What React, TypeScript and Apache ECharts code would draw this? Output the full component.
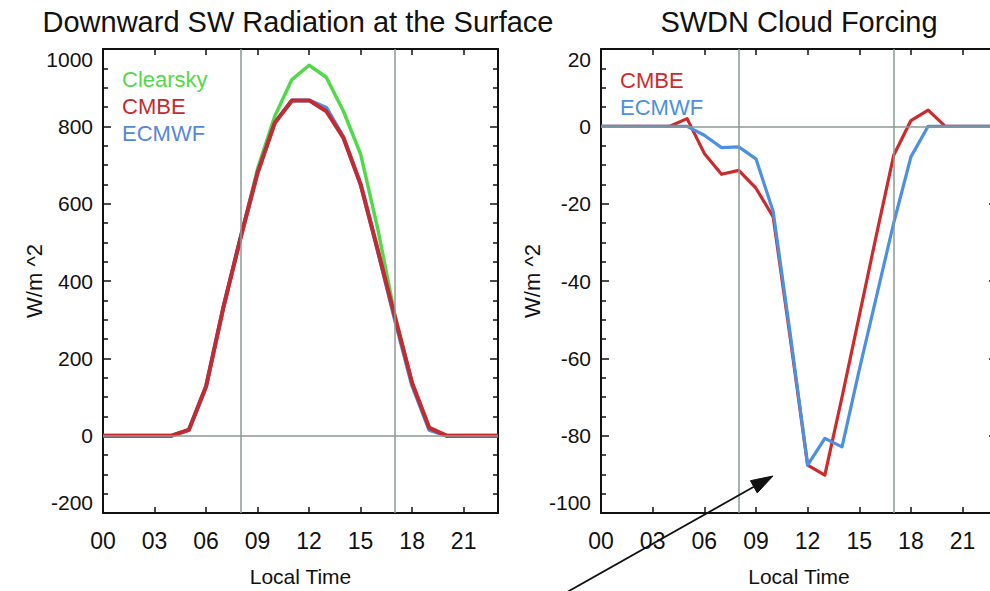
import React, { useEffect, useRef } from 'react';
import * as echarts from 'echarts';

const FONT = '"Liberation Sans", Arial, Helvetica, sans-serif';

// ---- data ----
const hours = [0, 1, 2, 3, 4, 5, 6, 7, 8, 9, 10, 11, 12, 13, 14, 15, 16, 17, 18, 19, 20, 21, 22, 23];
const clearskySW = [0, 0, 0, 0, 0, 15, 127, 330, 510, 690, 826, 921, 958, 927, 839, 728, 535, 310, 136, 20, 0, 0, 0, 0];
const cmbeSW = [0, 0, 0, 0, 0, 15, 127, 330, 510, 680, 809, 867, 867, 839, 770, 650, 480, 307, 136, 20, 0, 0, 0, 0];
const ecmwfSW = [0, 0, 0, 0, 0, 15, 127, 330, 510, 680, 809, 867, 867, 848, 772, 650, 478, 300, 130, 15, 0, 0, 0, 0];
const cmbeCF = [0, 0, 0, 0, 0, 2, -7, -12.4, -11.4, -16, -23.4, -55, -87.6, -90.2, -70, -49, -28, -7.5, 1.5, 4.2, 0, 0, 0, 0];
const ecmwfCF = [0, 0, 0, 0, 0, 0, -2.3, -5.5, -5.3, -8.4, -22, -54, -87.6, -80.7, -82.9, -63, -44, -25, -7.9, 0, 0, 0, 0, 0];

const refHours = [8, 17];
const titles = ['Downward SW Radiation at the Surface', 'SWDN Cloud Forcing'];
const xName = 'Local Time';
const yName = 'W/m ^2';

const GREEN = '#52d94a';
const RED = '#cc2b2e';
const BLUE = '#4d8fe0';
const GRAY = '#8e9893';
const INK = '#111111';

const pairs = (vals: number[]) => hours.map((h, i) => [h, vals[i]]);

function xAxes(gridIndex: number) {
  const base = {
    type: 'value',
    gridIndex,
    min: 0,
    max: 23,
    interval: 3,
    splitLine: { show: false },
    axisLine: { show: true, onZero: false, lineStyle: { color: INK, width: 2 } },
    axisTick: { show: true, inside: true, length: 6, lineStyle: { color: INK, width: 1.5 } },
  };
  return [
    {
      ...base,
      position: 'bottom',
      axisLabel: {
        show: true,
        showMaxLabel: false,
        margin: 16,
        color: INK,
        fontSize: 23,
        fontFamily: FONT,
        formatter: (v: number) => (v < 10 ? '0' + v : String(v)),
      },
      name: xName,
      nameLocation: 'middle',
      nameGap: 53,
      nameTextStyle: { color: INK, fontSize: 21, fontFamily: FONT },
    },
    { ...base, position: 'top', axisLabel: { show: false } },
  ];
}

function yAxes(gridIndex: number, min: number, max: number, interval: number) {
  const base = {
    type: 'value',
    gridIndex,
    min,
    max,
    interval,
    splitLine: { show: false },
    axisLine: { show: true, onZero: false, lineStyle: { color: INK, width: 2 } },
    axisTick: { show: true, inside: true, length: 8, lineStyle: { color: INK, width: 1.5 } },
    minorTick: { show: true, splitNumber: 4, length: 5, lineStyle: { color: INK, width: 1.5 } },
    minorSplitLine: { show: false },
  };
  return [
    {
      ...base,
      position: 'left',
      axisLabel: {
        show: true,
        margin: 10,
        color: INK,
        fontSize: 21,
        fontFamily: FONT,
        formatter: (v: number) => String(v),
        verticalAlignMaxLabel: 'top',
        verticalAlignMinLabel: 'bottom',
      },
      name: yName,
      nameLocation: 'middle',
      nameGap: 58,
      nameMoveOverlap: false,
      nameTextStyle: { color: INK, fontSize: 22, fontFamily: FONT },
    },
    { ...base, position: 'right', axisLabel: { show: false } },
  ];
}

function refLines(xi: number, yi: number) {
  return {
    type: 'line',
    xAxisIndex: xi,
    yAxisIndex: yi,
    data: [],
    silent: true,
    markLine: {
      silent: true,
      symbol: ['none', 'none'],
      label: { show: false },
      lineStyle: { color: GRAY, width: 1.5, type: 'solid' },
      data: [...refHours.map((h) => ({ xAxis: h })), { yAxis: 0 }],
    },
  };
}

function lineSeries(name: string, vals: number[], color: string, width: number, xi: number, yi: number) {
  return {
    type: 'line',
    name,
    xAxisIndex: xi,
    yAxisIndex: yi,
    data: pairs(vals),
    showSymbol: false,
    symbol: 'none',
    lineStyle: { color, width, join: 'round' },
    itemStyle: { color },
  };
}

function legendText(text: string, x: number, y: number, color: string) {
  return {
    type: 'text',
    x,
    y,
    z: 10,
    style: { text, fill: color, font: `22px ${FONT}`, align: 'left', verticalAlign: 'middle' },
  };
}

export default function App() {
  const ref = useRef<HTMLDivElement>(null);

  useEffect(() => {
    if (!ref.current) return;
    const chart = echarts.init(ref.current, null, { renderer: 'svg' });

    // arrow annotation
    const tail = [553, 600];
    const tip = [773, 476];
    const dx = tip[0] - tail[0];
    const dy = tip[1] - tail[1];
    const len = Math.sqrt(dx * dx + dy * dy);
    const ux = dx / len;
    const uy = dy / len;
    const headL = 22;
    const headW = 7;
    const bx = tip[0] - ux * headL;
    const by = tip[1] - uy * headL;

    const option: any = {
      animation: false,
      backgroundColor: '#ffffff',
      grid: [
        { left: 103, top: 49, width: 395, height: 464, containLabel: false, outerBoundsMode: 'none' },
        { left: 601, top: 49, width: 396, height: 464, containLabel: false, outerBoundsMode: 'none' },
      ],
      xAxis: [...xAxes(0), ...xAxes(1)],
      yAxis: [...yAxes(0, -200, 1000, 200), ...yAxes(1, -100, 20, 20)],
      series: [
        refLines(0, 0),
        lineSeries('Clearsky', clearskySW, GREEN, 3.5, 0, 0),
        lineSeries('ECMWF', ecmwfSW, BLUE, 4, 0, 0),
        lineSeries('CMBE', cmbeSW, '#c42a30', 4, 0, 0),
        refLines(2, 2),
        lineSeries('CMBE', cmbeCF, RED, 3.2, 2, 2),
        lineSeries('ECMWF', ecmwfCF, BLUE, 3.2, 2, 2),
      ],
      graphic: [
        {
          type: 'text',
          x: 298,
          y: 22,
          style: { text: titles[0], fill: INK, font: `29px ${FONT}`, align: 'center', verticalAlign: 'middle' },
        },
        {
          type: 'text',
          x: 799,
          y: 22,
          style: { text: titles[1], fill: INK, font: `29px ${FONT}`, align: 'center', verticalAlign: 'middle' },
        },
        legendText('Clearsky', 122, 79, GREEN),
        legendText('CMBE', 122, 106, '#c42a30'),
        legendText('ECMWF', 122, 133, '#5a86d6'),
        legendText('CMBE', 620, 80, RED),
        legendText('ECMWF', 620, 107, BLUE),
        {
          type: 'line',
          z: 20,
          shape: { x1: tail[0], y1: tail[1], x2: bx, y2: by },
          style: { stroke: INK, lineWidth: 1.8 },
        },
        {
          type: 'polygon',
          z: 20,
          shape: {
            points: [
              [tip[0], tip[1]],
              [bx - uy * headW, by + ux * headW],
              [bx + uy * headW, by - ux * headW],
            ],
          },
          style: { fill: INK, stroke: INK, lineWidth: 1 },
        },
      ],
    };

    chart.setOption(option);
    return () => chart.dispose();
  }, []);

  return (
    <div
      ref={ref}
      style={{ position: 'absolute', left: 0, top: 0, width: 990, height: 591, background: '#fff' }}
    />
  );
}
